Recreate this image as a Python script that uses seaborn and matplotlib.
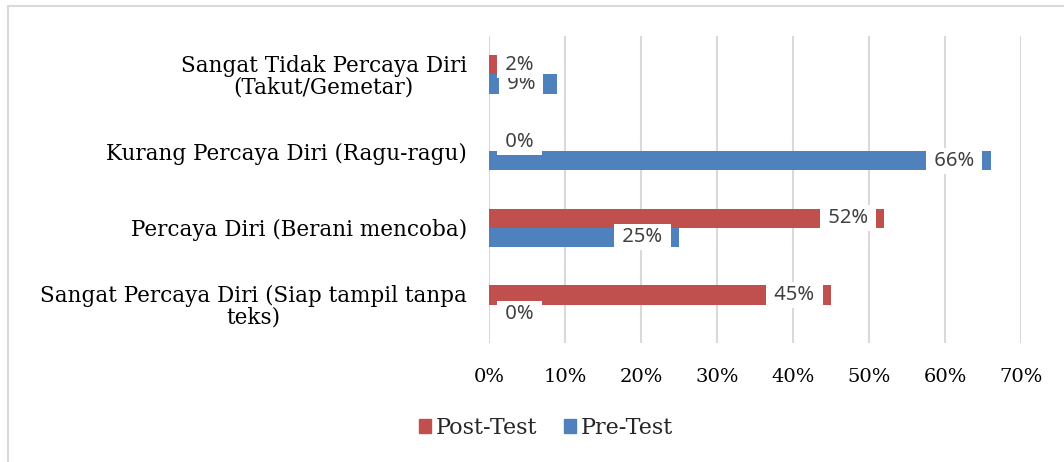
import pandas as pd
import numpy as np
import matplotlib.pyplot as plt
import matplotlib.patches as mpatches
import seaborn as sns

# Chart data
categories = ['Sangat Tidak Percaya Diri\n(Takut/Gemetar)',
              'Kurang Percaya Diri (Ragu-ragu)',
              'Percaya Diri (Berani mencoba)',
              'Sangat Percaya Diri (Siap tampil tanpa\nteks)']
post_test = [2, 0, 52, 45]
pre_test = [9, 66, 25, 0]
series_names = ['Post-Test', 'Pre-Test']
x_ticks = [0, 10, 20, 30, 40, 50, 60, 70]

RED = '#C0504D'
BLUE = '#4F81BD'
GRID = '#D9D9D9'
LABEL = '#404040'

sns.set_style('white')
plt.rcParams['font.family'] = ['DejaVu Serif']

df = pd.DataFrame({
    'category': categories * 2,
    'value': post_test + pre_test,
    'series': [series_names[0]] * 4 + [series_names[1]] * 4,
})

fig = plt.figure(figsize=(10.64, 4.62), dpi=100)
ax = fig.add_axes([0.4596, 0.2576, 0.5, 0.6645])

sns.barplot(data=df, x='value', y='category', hue='series',
            hue_order=series_names, palette=[RED, BLUE], orient='h',
            width=0.5, order=categories, errorbar=None, legend=False,
            saturation=1, linewidth=0, ax=ax, zorder=2)

ax.set_xlim(0, 70)
ax.set_xticks(x_ticks)
ax.set_xticklabels([f'{t}%' for t in x_ticks], fontsize=14, color='black')
ax.tick_params(axis='y', labelsize=15.5, length=0, pad=16, labelcolor='black')
ax.tick_params(axis='x', length=0, pad=18)
for lab in ax.get_yticklabels():
    lab.set_multialignment('center')
    lab.set_linespacing(0.95)
ax.set_xlabel('')
ax.set_ylabel('')
ax.grid(axis='x', color=GRID, lw=1.5, zorder=0)
ax.set_axisbelow(True)
for s in ax.spines.values():
    s.set_visible(False)

# Data labels with white boxes, Excel style (pre-test drawn first, post-test on top)
for container, z in zip(ax.containers[::-1], [5, 6]):
    for bar in container:
        v = bar.get_width()
        yc = bar.get_y() + bar.get_height() / 2
        ax.text(max(v - 4.8, 4), yc, f' {v:.0f}% ', ha='center', va='center',
                fontsize=14.5, color=LABEL, family='Noto Sans', zorder=z,
                bbox=dict(boxstyle='square,pad=0.15', fc='white', ec='none'))

handles = [mpatches.Patch(color=RED, label=series_names[0]),
           mpatches.Patch(color=BLUE, label=series_names[1])]
fig.legend(handles=handles, loc='center', bbox_to_anchor=(0.513, 0.074),
           ncol=2, frameon=False, fontsize=16, handlelength=0.55,
           handleheight=0.55, handletextpad=0.2, columnspacing=1.2)

# Outer chart frame
fig.patches.append(mpatches.Rectangle((0.0075, -0.1), 1.2, 1.087,
                                      transform=fig.transFigure, fill=False,
                                      ec=GRID, lw=1.5))

fig.savefig('out.png', dpi=100)
